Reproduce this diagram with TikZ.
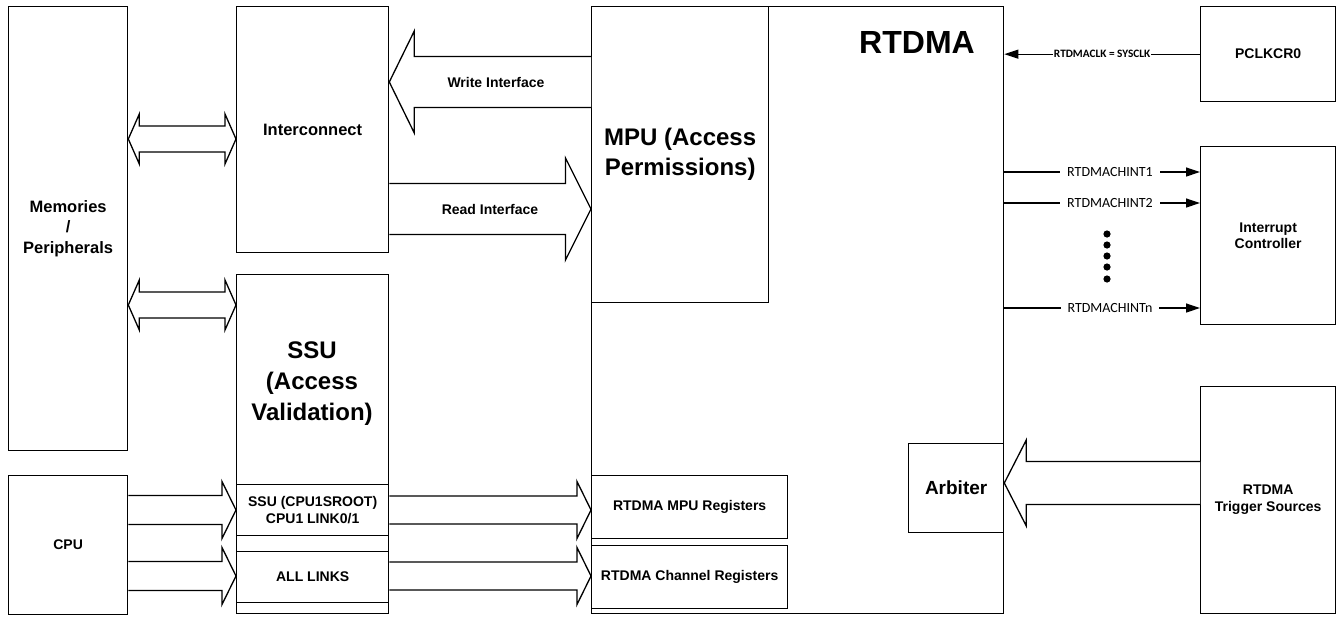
\documentclass[tikz,border=0pt]{standalone}
\usepackage{fontspec}
\setmainfont{Liberation Sans}
\newfontfamily\sigfont{Carlito}
\usetikzlibrary{calc,arrows.meta}

\begin{document}
\begin{tikzpicture}[x=1pt, y=-1pt,
  blk/.style={draw, line width=1.3pt, anchor=north west, inner sep=0pt, align=center, font=\fontsize{14}{17}\selectfont\bfseries},
  fatarr/.style={draw, fill=white, line width=1.3pt, line join=miter},
  fatone/.style n args={3}{to path={
    ($(\tikztostart)+(0,-#3)$)
    -- ($(\tikztotarget)!#1pt!(\tikztostart)+(0,-#3)$)
    -- ($(\tikztotarget)!#1pt!(\tikztostart)+(0,-#2)$)
    -- (\tikztotarget)
    -- ($(\tikztotarget)!#1pt!(\tikztostart)+(0,#2)$)
    -- ($(\tikztotarget)!#1pt!(\tikztostart)+(0,#3)$)
    -- ($(\tikztostart)+(0,#3)$)}},
  fatdbl/.style n args={3}{to path={
    (\tikztostart)
    -- ($(\tikztostart)!#1pt!(\tikztotarget)+(0,-#2)$)
    -- ($(\tikztostart)!#1pt!(\tikztotarget)+(0,-#3)$)
    -- ($(\tikztotarget)!#1pt!(\tikztostart)+(0,-#3)$)
    -- ($(\tikztotarget)!#1pt!(\tikztostart)+(0,-#2)$)
    -- (\tikztotarget)
    -- ($(\tikztotarget)!#1pt!(\tikztostart)+(0,#2)$)
    -- ($(\tikztotarget)!#1pt!(\tikztostart)+(0,#3)$)
    -- ($(\tikztostart)!#1pt!(\tikztotarget)+(0,#3)$)
    -- ($(\tikztostart)!#1pt!(\tikztotarget)+(0,#2)$)
    -- cycle}},
  sig/.style={line width=1.2pt, -{Triangle[length=14pt, width=9pt]}},
  intlbl/.style={fill=white, inner xsep=7pt, inner ysep=1pt, font=\sigfont\fontsize{14}{16}\selectfont},
  clklbl/.style={fill=white, inner sep=0.5pt, font=\sigfont\bfseries\fontsize{11.3}{13}\selectfont}]
  \useasboundingbox (0,0) rectangle (1340,616);

  \node[blk, minimum width=412pt, minimum height=607pt] (rtdma) at (591,6) {};
  \node[font=\fontsize{32}{38}\selectfont\bfseries] (rtdmalbl) at (917,42) {RTDMA};
  \node[blk, minimum width=177pt, minimum height=296pt, font=\fontsize{24}{30}\selectfont\bfseries] (mpu) at (591,6) {MPU (Access\\Permissions)};
  \node[blk, minimum width=196pt, minimum height=63pt] (regmpu) at (591,475) {RTDMA MPU Registers};
  \node[blk, minimum width=196pt, minimum height=63pt] (regch) at (591,545) {RTDMA Channel Registers};
  \node[blk, minimum width=95pt, minimum height=89pt, font=\fontsize{19}{23}\selectfont\bfseries] (arb) at (908,443) {Arbiter};

  \node[blk, minimum width=119pt, minimum height=444pt, font=\fontsize{16.5}{20.5}\selectfont\bfseries] (mem) at (8,6) {Memories\\/\\Peripherals};
  \node[blk, minimum width=119pt, minimum height=139pt] (cpu) at (8,475) {CPU};
  \node[blk, minimum width=152pt, minimum height=246pt, font=\fontsize{16.5}{20.5}\selectfont\bfseries] (inter) at (236,6) {Interconnect};
  \node[blk, minimum width=152pt, minimum height=339pt] (ssu) at (236,274) {};
  \node[font=\fontsize{24}{31}\selectfont\bfseries, align=center] (ssulbl) at (312,384) {SSU\\(Access\\Validation)};
  \node[blk, minimum width=152pt, minimum height=51pt] (ssuroot) at (236,484) {SSU (CPU1SROOT)\\CPU1 LINK0/1};
  \node[blk, minimum width=152pt, minimum height=51pt] (alllinks) at (236,551) {ALL LINKS};

  \node[blk, minimum width=135pt, minimum height=95pt] (pclk) at (1200,6) {PCLKCR0};
  \node[blk, minimum width=135pt, minimum height=178pt, font=\fontsize{14}{16}\selectfont\bfseries] (intc) at (1200,146) {Interrupt\\Controller};
  \node[blk, minimum width=135pt, minimum height=227pt] (trig) at (1200,386) {RTDMA\\Trigger Sources};

  \draw[fatarr] (mem.east |- 0,139) to[fatdbl={11}{25}{13}] (inter.west |- 0,139);
  \draw[fatarr] (mem.east |- 0,305) to[fatdbl={11}{25}{13}] (ssu.west |- 0,305);
  \draw[fatarr] (mpu.west |- 0,82) to[fatone={25}{51}{25.5}] (inter.east |- 0,82);
  \draw[fatarr] (inter.east |- 0,209) to[fatone={25.5}{51}{25.5}] (mpu.west |- 0,209);
  \draw[fatarr] (cpu.east |- 0,510) to[fatone={14}{28.5}{14.5}] (ssu.west |- 0,510);
  \draw[fatarr] (cpu.east |- 0,576) to[fatone={14}{28.5}{14.5}] (ssu.west |- 0,576);
  \draw[fatarr] (ssu.east |- 0,510) to[fatone={14}{28.5}{14}] (regmpu.west |- 0,510);
  \draw[fatarr] (ssu.east |- 0,576) to[fatone={14}{28.5}{14}] (regch.west |- 0,576);
  \draw[fatarr] (trig.west |- 0,483) to[fatone={22}{43}{21.5}] (arb.east |- 0,483);
  \node[font=\fontsize{14}{17}\selectfont\bfseries] (wrlbl) at (496,82) {Write Interface};
  \node[font=\fontsize{14}{17}\selectfont\bfseries] (rdlbl) at (490,209) {Read Interface};

  \draw[sig] (pclk.west) -- node[clklbl] {RTDMACLK = SYSCLK} (rtdma.east |- pclk.west);
  \draw[sig] (rtdma.east |- 0,172) -- node[intlbl, pos=0.54] {RTDMACHINT1} (intc.west |- 0,172);
  \draw[sig] (rtdma.east |- 0,203) -- node[intlbl, pos=0.54] {RTDMACHINT2} (intc.west |- 0,203);
  \draw[sig] (rtdma.east |- 0,308) -- node[intlbl, pos=0.54] {RTDMACHINTn} (intc.west |- 0,308);
  \foreach \y in {234,245,256,267,279}
    \fill (1107,\y) circle (3.6pt);
\end{tikzpicture}
\end{document}
